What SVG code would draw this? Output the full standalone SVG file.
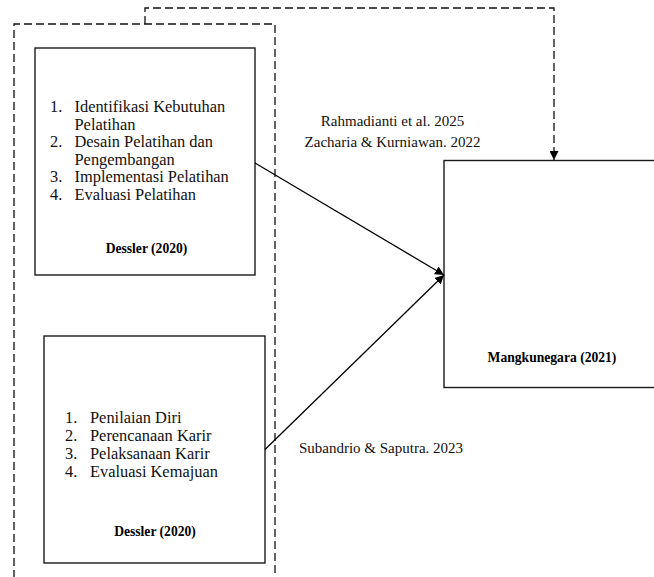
<svg xmlns="http://www.w3.org/2000/svg" width="654" height="577" viewBox="0 0 654 577">
<defs>
<style>
.box{fill:#fff;stroke:#1a1a1a;stroke-width:1.4}
.dash{fill:none;stroke:#111;stroke-width:1.3;stroke-dasharray:8 4}
.edge{fill:none;stroke:#000;stroke-width:1.3}
.t{font-family:"Liberation Serif","Times New Roman",serif;font-size:16.4px;fill:#111}
.lbl{font-family:"Liberation Serif","Times New Roman",serif;font-size:15px;fill:#111;text-anchor:middle}
.b{font-family:"Liberation Serif","Times New Roman",serif;font-size:13.6px;font-weight:bold;fill:#000;text-anchor:middle}
</style>
<marker id="ah" viewBox="0 0 10 10" refX="10" refY="5" markerWidth="9" markerHeight="9" markerUnits="userSpaceOnUse" orient="auto">
<path d="M0,0 L10,5 L0,10 z" fill="#000"/>
</marker>
</defs>
<rect width="654" height="577" fill="#fff"/>
<g id="group-frame">
<path class="dash" d="M14,590 V24 H275 V590"/>
</g>
<g id="node-training">
<rect class="box" x="35" y="48" width="220" height="227"/>
<text class="t" x="50" y="112">1.</text><text class="t" x="74.5" y="112">Identifikasi Kebutuhan</text>
<text class="t" x="74.5" y="129.5">Pelatihan</text>
<text class="t" x="50" y="147">2.</text><text class="t" x="74.5" y="147">Desain Pelatihan dan</text>
<text class="t" x="74.5" y="164.5">Pengembangan</text>
<text class="t" x="50" y="182">3.</text><text class="t" x="74.5" y="182">Implementasi Pelatihan</text>
<text class="t" x="50" y="199.5">4.</text><text class="t" x="74.5" y="199.5">Evaluasi Pelatihan</text>
<text class="b" x="146.5" y="253">Dessler (2020)</text>
</g>
<g id="node-career">
<rect class="box" x="44" y="336" width="221" height="227"/>
<text class="t" x="65" y="423.3">1.</text><text class="t" x="90" y="423.3">Penilaian Diri</text>
<text class="t" x="65" y="441.1">2.</text><text class="t" x="90" y="441.1">Perencanaan Karir</text>
<text class="t" x="65" y="458.9">3.</text><text class="t" x="90" y="458.9">Pelaksanaan Karir</text>
<text class="t" x="65" y="476.7">4.</text><text class="t" x="90" y="476.7">Evaluasi Kemajuan</text>
<text class="b" x="155" y="536">Dessler (2020)</text>
</g>
<g id="node-result">
<rect class="box" x="444" y="160.5" width="216" height="227"/>
<text class="b" x="552" y="361.5">Mangkunegara (2021)</text>
</g>
<g id="connectors">
<path class="edge" d="M255,163 L444,275" marker-end="url(#ah)"/>
<path class="edge" d="M265,449.5 L444,275" marker-end="url(#ah)"/>
<path class="dash" d="M145,24 V8 H554 V160" marker-end="url(#ah)"/>
</g>
<g id="labels">
<text class="lbl" x="392.5" y="126">Rahmadianti et al. 2025</text>
<text class="lbl" x="392.5" y="146.5">Zacharia &amp; Kurniawan. 2022</text>
<text class="lbl" x="381" y="452.5">Subandrio &amp; Saputra. 2023</text>
</g>
</svg>
